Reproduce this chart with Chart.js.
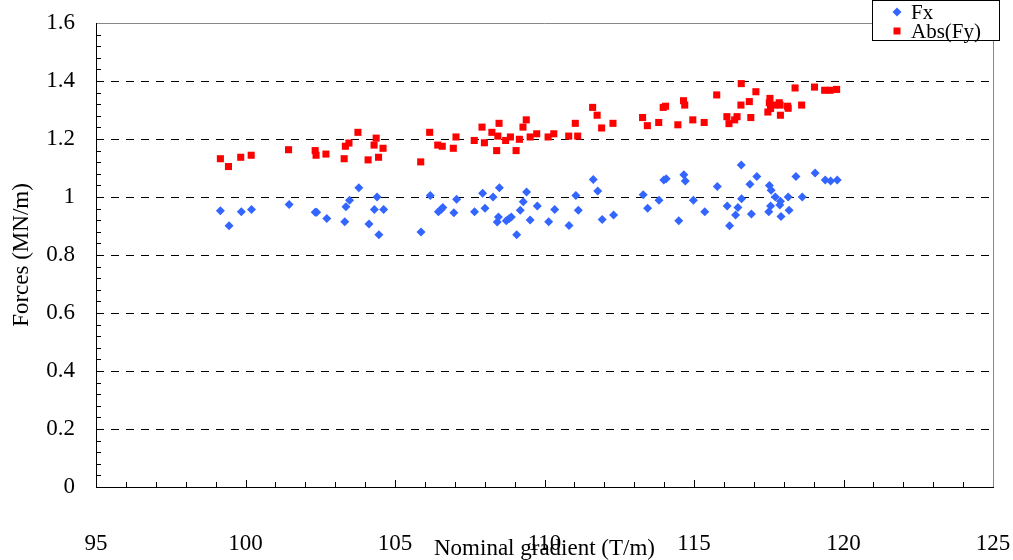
<!DOCTYPE html>
<html>
<head>
<meta charset="utf-8">
<script src="https://cdn.jsdelivr.net/npm/chart.js@4.4.0/dist/chart.umd.min.js"></script>
<style>
  html, body { margin: 0; padding: 0; background: #fff; }
  #wrap { width: 1013px; height: 560px; }
</style>
</head>
<body>
<div id="wrap"><canvas id="myChart" width="1013" height="560"></canvas></div>
<script>
// Fx values (blue diamonds)
const fxGradient = [99.16, 99.45, 99.86, 100.20, 101.46, 102.33, 102.38, 102.72, 103.32, 103.36,
  103.48, 103.79, 104.13, 104.31, 104.40, 104.46, 104.62, 105.87, 106.18, 106.45,
  106.54, 106.60, 106.97, 107.06, 107.66, 107.93, 108.01, 108.28, 108.49, 108.46,
  108.42, 108.72, 108.81, 108.89, 109.07, 109.19, 109.29, 109.40, 109.52, 109.76,
  110.14, 110.34, 110.82, 111.05, 111.13, 111.63, 111.78, 111.93, 112.31, 113.30,
  113.45, 113.83, 113.99, 114.07, 114.49, 114.66, 114.71, 114.98, 115.36, 115.78,
  116.11, 116.19, 116.39, 116.47, 116.59, 116.58, 116.87, 116.92, 117.10, 117.50,
  117.52, 117.56, 117.58, 117.72, 117.87, 117.89, 117.91, 118.15, 118.18, 118.41,
  118.62, 119.05, 119.39, 119.57, 119.79];
const fxForce = [0.953, 0.901, 0.949, 0.957, 0.974, 0.947, 0.947, 0.926, 0.915, 0.966,
  0.989, 1.032, 0.907, 0.957, 1.000, 0.870, 0.957, 0.879, 1.005, 0.949,
  0.957, 0.964, 0.946, 0.992, 0.949, 1.013, 0.961, 1.000, 1.032, 0.931,
  0.914, 0.918, 0.925, 0.931, 0.870, 0.954, 0.984, 1.017, 0.921, 0.969,
  0.915, 0.957, 0.902, 1.005, 0.954, 1.060, 1.021, 0.922, 0.938, 1.008,
  0.961, 0.989, 1.059, 1.063, 0.918, 1.077, 1.055, 0.989, 0.949, 1.036,
  0.969, 0.901, 0.938, 0.964, 0.994, 1.110, 1.044, 0.941, 1.071, 0.949,
  1.040, 0.969, 1.023, 1.000, 0.972, 0.985, 0.933, 1.000, 0.954, 1.071,
  1.000, 1.083, 1.059, 1.055, 1.059];

// Abs(Fy) values (red squares)
const fyGradient = [99.16, 99.43, 99.84, 100.19, 101.44, 102.33, 102.36, 102.69, 103.30, 103.34,
  103.46, 103.76, 104.10, 104.30, 104.37, 104.45, 104.60, 105.86, 106.16, 106.43,
  106.58, 106.95, 107.04, 107.65, 107.91, 107.99, 108.24, 108.40, 108.44, 108.48,
  108.70, 108.86, 109.05, 109.16, 109.28, 109.39, 109.52, 109.74, 110.12, 110.31,
  110.81, 111.03, 111.11, 111.61, 111.76, 111.91, 112.29, 113.28, 113.44, 113.82,
  113.97, 114.05, 114.46, 114.65, 114.69, 114.96, 115.34, 115.76, 116.10, 116.17,
  116.36, 116.44, 116.57, 116.58, 116.85, 116.90, 117.07, 117.47, 117.52, 117.54,
  117.56, 117.70, 117.85, 117.88, 117.89, 118.13, 118.15, 118.38, 118.60, 119.03,
  119.37, 119.55, 119.77];
const fyForce = [1.132, 1.105, 1.137, 1.144, 1.163, 1.160, 1.144, 1.148, 1.132, 1.175,
  1.186, 1.223, 1.128, 1.179, 1.203, 1.137, 1.168, 1.121, 1.223, 1.179,
  1.175, 1.168, 1.207, 1.195, 1.241, 1.187, 1.223, 1.160, 1.210, 1.254,
  1.195, 1.207, 1.160, 1.199, 1.241, 1.266, 1.207, 1.218, 1.207, 1.218,
  1.210, 1.254, 1.210, 1.309, 1.282, 1.238, 1.254, 1.274, 1.246, 1.257,
  1.309, 1.313, 1.249, 1.332, 1.317, 1.266, 1.257, 1.352, 1.277, 1.253,
  1.266, 1.277, 1.317, 1.391, 1.329, 1.274, 1.363, 1.293, 1.325, 1.340,
  1.305, 1.317, 1.325, 1.317, 1.282, 1.313, 1.306, 1.376, 1.317, 1.379,
  1.368, 1.368, 1.371];

const seriesNames = ['Fx', 'Abs(Fy)'];
const xTitle = 'Nominal gradient (T/m)';
const yTitle = 'Forces (MN/m)';
const xMin = 95, xMax = 125, xStep = 5;
const yMin = 0, yMax = 1.6, yStep = 0.2;

const serif = "'Liberation Serif', 'Times New Roman', serif";
const blue = '#3366FF';
const red = '#FF0000';

function toPoints(xs, ys) {
  return xs.map((v, i) => ({ x: v, y: ys[i] }));
}

// frame of the plot area plus the small inner ticks
const framePlugin = {
  id: 'frame',
  beforeDatasetsDraw(chart) {
    const { ctx, chartArea: a, scales: { x, y } } = chart;
    ctx.save();
    ctx.lineWidth = 1;
    ctx.strokeStyle = '#000';
    ctx.beginPath();
    for (let v = xMin; v <= xMax; v += 1) {
      const px = Math.round(x.getPixelForValue(v)) + 0.5;
      const len = (v % 5 === 0) ? 7 : 5;
      ctx.moveTo(px, a.bottom);
      ctx.lineTo(px, a.bottom - len);
    }
    for (let i = 0; i <= 40; i++) {
      const py = Math.round(y.getPixelForValue(i * 0.04)) + 0.5;
      const len = (i % 5 === 0) ? 7 : 5;
      ctx.moveTo(a.left, py);
      ctx.lineTo(a.left + len, py);
    }
    ctx.stroke();

    // right / top border grey
    ctx.strokeStyle = '#888';
    ctx.beginPath();
    ctx.moveTo(a.left, a.top + 0.5);
    ctx.lineTo(a.right + 0.5, a.top + 0.5);
    ctx.lineTo(a.right + 0.5, a.bottom);
    ctx.stroke();

    // left / bottom axis black
    ctx.strokeStyle = '#000';
    ctx.beginPath();
    ctx.moveTo(a.left + 0.5, a.top);
    ctx.lineTo(a.left + 0.5, a.bottom + 0.5);
    ctx.lineTo(a.right + 1, a.bottom + 0.5);
    ctx.stroke();
    ctx.restore();
  }
};

// boxed legend in the top right corner
const boxLegend = {
  id: 'boxLegend',
  afterDraw(chart, args, opts) {
    const ctx = chart.ctx;
    const b = opts.box;
    ctx.save();
    ctx.fillStyle = '#fff';
    ctx.fillRect(b.x, b.y, b.w, b.h);
    ctx.strokeStyle = '#000';
    ctx.lineWidth = 1;
    ctx.strokeRect(b.x + 0.5, b.y + 0.5, b.w, b.h);
    ctx.font = '21px ' + serif;
    ctx.textBaseline = 'middle';
    chart.data.datasets.forEach((ds, i) => {
      const cy = b.y + opts.rowTop + i * opts.rowGap;
      const cx = b.x + opts.markX;
      ctx.fillStyle = ds.backgroundColor;
      ctx.beginPath();
      if (ds.pointStyle === 'rectRot') {
        ctx.moveTo(cx, cy - 4.5);
        ctx.lineTo(cx + 4.5, cy);
        ctx.lineTo(cx, cy + 4.5);
        ctx.lineTo(cx - 4.5, cy);
        ctx.closePath();
      } else {
        ctx.rect(cx - 3.5, cy - 3.5, 7, 7);
      }
      ctx.fill();
      ctx.fillStyle = '#000';
      ctx.fillText(ds.label, b.x + opts.textX, cy + 1);
    });
    ctx.restore();
  }
};

const ctx = document.getElementById('myChart').getContext('2d');
const myChart = new Chart(ctx, {
  type: 'scatter',
  data: {
    datasets: [{
      label: seriesNames[0],
      data: toPoints(fxGradient, fxForce),
      pointStyle: 'rectRot',
      radius: 4.5,
      backgroundColor: blue,
      borderColor: blue,
      borderWidth: 0
    }, {
      label: seriesNames[1],
      data: toPoints(fyGradient, fyForce),
      pointStyle: 'rect',
      radius: 5,
      backgroundColor: red,
      borderColor: red,
      borderWidth: 0
    }]
  },
  options: {
    responsive: false,
    animation: false,
    devicePixelRatio: 1,
    layout: { padding: { top: 23, right: 20, left: 0, bottom: 0 } },
    plugins: {
      legend: { display: false },
      tooltip: { enabled: false },
      boxLegend: {
        box: { x: 872, y: 0, w: 127, h: 40 },
        rowTop: 12, rowGap: 19, markX: 25, textX: 39
      }
    },
    scales: {
      x: {
        type: 'linear',
        min: xMin,
        max: xMax,
        afterFit: (s) => { s.height = 73; s.paddingLeft = 0; s.paddingRight = 0; },
        ticks: {
          stepSize: xStep,
          color: '#000',
          padding: 43,
          maxRotation: 0,
          font: { family: serif, size: 23 }
        },
        grid: { display: false, drawTicks: false },
        border: { display: false },
        title: {
          display: true,
          text: xTitle,
          color: '#000',
          padding: { top: 0, bottom: -3 },
          font: { family: serif, size: 23 }
        }
      },
      y: {
        type: 'linear',
        min: yMin,
        max: yMax,
        afterFit: (s) => { s.width = 96; s.paddingTop = 0; s.paddingBottom = 0; },
        ticks: {
          stepSize: yStep,
          color: '#000',
          padding: 21,
          font: { family: serif, size: 23 },
          callback: (v) => String(+v.toFixed(1))
        },
        grid: {
          drawTicks: false,
          color: (c) => (c.tick && (c.tick.value <= yMin || c.tick.value >= yMax - 1e-9)) ? 'rgba(0,0,0,0)' : '#000',
          lineWidth: 1
        },
        border: { display: false, dash: [8, 7] },
        title: {
          display: true,
          text: yTitle,
          color: '#000',
          padding: { top: 8, bottom: 0 },
          font: { family: serif, size: 23 }
        }
      }
    }
  },
  plugins: [framePlugin, boxLegend]
});
</script>
</body>
</html>
